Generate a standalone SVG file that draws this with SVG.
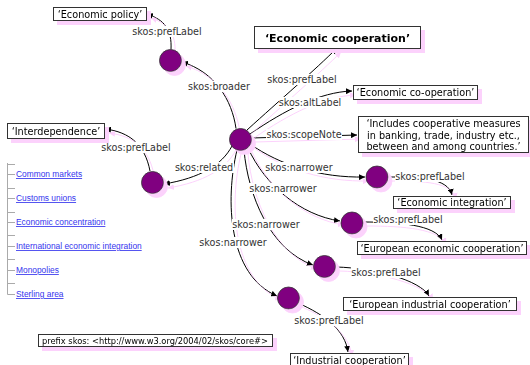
<svg xmlns="http://www.w3.org/2000/svg" width="530" height="365" viewBox="0 0 530 365">
<style>
.lbl{font-family:"DejaVu Sans",Verdana,sans-serif;font-size:9.6px;fill:#333;text-anchor:middle}
.lbg{fill:#fff;stroke:none}
.lit{font-family:"DejaVu Sans",Verdana,sans-serif;font-size:9.7px;fill:#000;text-anchor:middle}
.big{font-size:11px;font-weight:bold}
.box{fill:#fff;stroke:#333;stroke-width:1}
.res{fill:#800080;stroke:#333;stroke-width:0.8}
.edge{fill:none;stroke:#000;stroke-width:1;marker-end:url(#arr)}
.lnk{font-family:"Liberation Sans",Arial,sans-serif;font-size:8.4px;fill:#3535ee;text-decoration:underline}
.tree{stroke:#aaa;stroke-width:1;fill:none}
</style>
<defs>
<marker id="arr" viewBox="0 0 10 10" refX="10" refY="5" markerWidth="6" markerHeight="6" markerUnits="userSpaceOnUse" orient="auto">
<path d="M0,0 L10,5 L0,10 z" fill="#000"/>
</marker>
<filter id="sh" filterUnits="userSpaceOnUse" x="0" y="0" width="530" height="365">
<feOffset in="SourceAlpha" dx="4" dy="4" result="o"/>
<feFlood flood-color="#fcd2fc" result="f"/>
<feComposite in="f" in2="o" operator="in" result="s"/>
<feMerge><feMergeNode in="s"/><feMergeNode in="SourceGraphic"/></feMerge>
</filter>
</defs>
<rect width="530" height="365" fill="#fff"/>

<g id="tree">
<path class="tree" d="M7.5,163 V294.5 M7.5,164.5 H15 M7.5,174.5 H15 M7.5,188.5 H15 M7.5,198.5 H15 M7.5,212.5 H15 M7.5,222.5 H15 M7.5,235.5 H15 M7.5,246.5 H15 M7.5,259.5 H15 M7.5,270.5 H15 M7.5,283.5 H15 M7.5,294.5 H15"/>
<text class="lnk" x="16" y="177">Common markets</text>
<text class="lnk" x="16" y="201">Customs unions</text>
<text class="lnk" x="16" y="225">Economic concentration</text>
<text class="lnk" x="16" y="249">International economic integration</text>
<text class="lnk" x="16" y="273">Monopolies</text>
<text class="lnk" x="16" y="297">Sterling area</text>
</g>

<g id="connectors" filter="url(#sh)">
<path class="edge" d="M236,128.5 C232,100 215,72 182,62"/>
<path class="edge" d="M171,49.5 C172,30 165,20 147,14"/>
<path class="edge" d="M247,130 C280,100 315,70 337,48"/>
<path class="edge" d="M250,134 C285,110 320,92 352,91"/>
<path class="edge" d="M251,138 L357,135"/>
<path class="edge" d="M250,144 C280,165 320,178 365,177"/>
<path class="edge" d="M248,148 C265,185 300,215 340,221"/>
<path class="edge" d="M244,150 C248,195 270,250 313,265"/>
<path class="edge" d="M237,150 C225,200 228,275 277,296"/>
<path class="edge" d="M232,146 C222,165 200,178 164,184"/>
<path class="edge" d="M150,171 C145,145 130,132 105,129"/>
<path class="edge" d="M388,177 C420,177 448,178 452,195"/>
<path class="edge" d="M363,222 C400,222 435,225 442,240"/>
<path class="edge" d="M336,267 C375,268 420,280 429,296"/>
<path class="edge" d="M298,303 C325,315 345,330 348,352"/>
</g>

<g id="labels">
<rect class="lbg" x="132" y="26" width="70" height="11"/><text class="lbl" x="167" y="35">skos:prefLabel</text>
<rect class="lbg" x="188" y="81" width="63" height="11"/><text class="lbl" x="219" y="90">skos:broader</text>
<rect class="lbg" x="267" y="74" width="70" height="11"/><text class="lbl" x="302" y="83">skos:prefLabel</text>
<rect class="lbg" x="279" y="97" width="63" height="11"/><text class="lbl" x="310" y="106">skos:altLabel</text>
<rect class="lbg" x="266" y="129" width="76" height="11"/><text class="lbl" x="304" y="138">skos:scopeNote</text>
<rect class="lbg" x="265" y="162" width="68" height="11"/><text class="lbl" x="299" y="171">skos:narrower</text>
<rect class="lbg" x="249" y="183" width="68" height="11"/><text class="lbl" x="283" y="192">skos:narrower</text>
<rect class="lbg" x="232" y="219" width="68" height="11"/><text class="lbl" x="266" y="228">skos:narrower</text>
<rect class="lbg" x="199" y="237" width="68" height="11"/><text class="lbl" x="233" y="246">skos:narrower</text>
<rect class="lbg" x="175" y="162" width="59" height="11"/><text class="lbl" x="204" y="171">skos:related</text>
<rect class="lbg" x="101" y="142" width="70" height="11"/><text class="lbl" x="136" y="151">skos:prefLabel</text>
<rect class="lbg" x="395" y="171" width="70" height="11"/><text class="lbl" x="430" y="180">skos:prefLabel</text>
<rect class="lbg" x="373" y="214" width="70" height="11"/><text class="lbl" x="408" y="223">skos:prefLabel</text>
<rect class="lbg" x="351" y="267" width="70" height="11"/><text class="lbl" x="386" y="276">skos:prefLabel</text>
<rect class="lbg" x="294" y="315" width="70" height="11"/><text class="lbl" x="329" y="324">skos:prefLabel</text>
</g>

<g id="n-center" filter="url(#sh)"><circle class="res" cx="240.5" cy="139.5" r="11"/></g>
<g id="n-broader" filter="url(#sh)"><circle class="res" cx="170.5" cy="60.5" r="11"/></g>
<g id="n-related" filter="url(#sh)"><circle class="res" cx="152.5" cy="182.5" r="11"/></g>
<g id="n-narrower1" filter="url(#sh)"><circle class="res" cx="377" cy="177" r="11"/></g>
<g id="n-narrower2" filter="url(#sh)"><circle class="res" cx="352" cy="223" r="11"/></g>
<g id="n-narrower3" filter="url(#sh)"><circle class="res" cx="324.5" cy="266.5" r="11"/></g>
<g id="n-narrower4" filter="url(#sh)"><circle class="res" cx="288.5" cy="298" r="11"/></g>

<g id="l-economic-policy" filter="url(#sh)"><rect class="box" x="53.5" y="7.5" width="93" height="13"/><text class="lit" x="100" y="17.5">&#8216;Economic policy&#8217;</text></g>
<g id="l-economic-cooperation" filter="url(#sh)"><rect class="box" x="254.5" y="26.5" width="166" height="22"/><text class="lit big" x="337.5" y="41.5">&#8216;Economic cooperation&#8217;</text></g>
<g id="l-co-operation" filter="url(#sh)"><rect class="box" x="353.5" y="85.5" width="124" height="14"/><text class="lit" x="415.5" y="96">&#8216;Economic co-operation&#8217;</text></g>
<g id="l-scopenote" filter="url(#sh)"><rect class="box" x="358.5" y="116.5" width="170" height="36"/>
<text class="lit" x="443.5" y="127">&#8216;Includes cooperative measures</text>
<text class="lit" x="443.5" y="138.5">in banking, trade, industry etc.,</text>
<text class="lit" x="443.5" y="150">between and among countries.&#8217;</text></g>
<g id="l-interdependence" filter="url(#sh)"><rect class="box" x="7.5" y="123.5" width="97" height="15"/><text class="lit" x="56" y="134.5">&#8216;Interdependence&#8217;</text></g>
<g id="l-economic-integration" filter="url(#sh)"><rect class="box" x="393.5" y="196.5" width="117" height="12"/><text class="lit" x="452" y="206">&#8216;Economic integration&#8217;</text></g>
<g id="l-european-economic" filter="url(#sh)"><rect class="box" x="357.5" y="241.5" width="169" height="13"/><text class="lit" x="442" y="251.5">&#8216;European economic cooperation&#8217;</text></g>
<g id="l-european-industrial" filter="url(#sh)"><rect class="box" x="343.5" y="297.5" width="173" height="13"/><text class="lit" x="430" y="307.5">&#8216;European industrial cooperation&#8217;</text></g>
<g id="l-industrial" filter="url(#sh)"><rect class="box" x="290.5" y="353.5" width="118" height="13"/><text class="lit" x="349.5" y="363.5">&#8216;Industrial cooperation&#8217;</text></g>
<g id="prefix" filter="url(#sh)"><rect class="box" x="38.5" y="334.5" width="234" height="12"/><text x="42" y="343.5" style="font-family:'DejaVu Sans',Verdana,sans-serif;font-size:8.3px;fill:#000">prefix skos: &lt;http://www.w3.org/2004/02/skos/core#&gt;</text></g>
</svg>
